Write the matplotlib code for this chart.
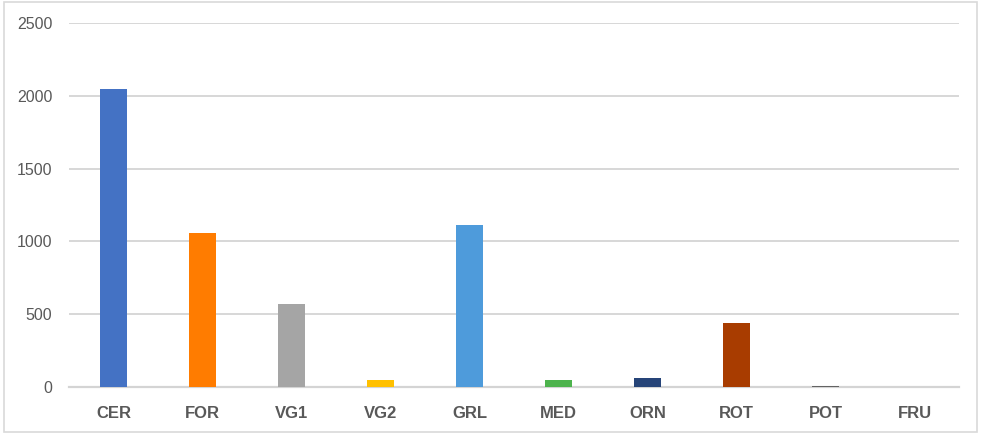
import matplotlib.pyplot as plt
from matplotlib.patches import Rectangle

# data
categories = ['CER', 'FOR', 'VG1', 'VG2', 'GRL', 'MED', 'ORN', 'ROT', 'POT', 'FRU']
values = [2050, 1060, 570, 45, 1110, 45, 60, 440, 8, 0]
colors = ['#4472C4', '#FF7C00', '#A5A5A5', '#FFC000', '#4E9BDB',
          '#4DB34D', '#264478', '#A83C00', '#636363', '#999999']

plt.rcParams['font.family'] = ['Liberation Sans', 'DejaVu Sans']

fig = plt.figure(figsize=(9.83, 4.36), dpi=100)
ax = fig.add_axes([0.0702, 0.1124, 0.9054, 0.8348])

x = range(len(categories))
ax.bar(x, values, width=0.31, color=colors, zorder=3)

ax.set_xlim(-0.5, len(categories) - 0.5)
ax.set_ylim(0, 2500)
ax.set_yticks(range(0, 2501, 500))
ax.set_xticks(list(x))
ax.set_xticklabels(categories, fontweight='bold', fontsize=12, color='#595959')
ax.tick_params(axis='y', length=0, pad=12, labelsize=11.5, labelcolor='#595959')
ax.tick_params(axis='x', length=0, pad=14)

ax.grid(axis='y', color='#D4D4D4', linewidth=1.3, zorder=0)
for s in ['top', 'right', 'left']:
    ax.spines[s].set_visible(False)
ax.spines['bottom'].set_color('#D4D4D4')
ax.spines['bottom'].set_linewidth(1.6)

# light chart border
fig.patches.append(Rectangle((0.004, 0.01), 0.99, 0.985, transform=fig.transFigure,
                             fill=False, edgecolor='#D9D9D9', linewidth=1.2))

fig.savefig('out.png', dpi=100)
